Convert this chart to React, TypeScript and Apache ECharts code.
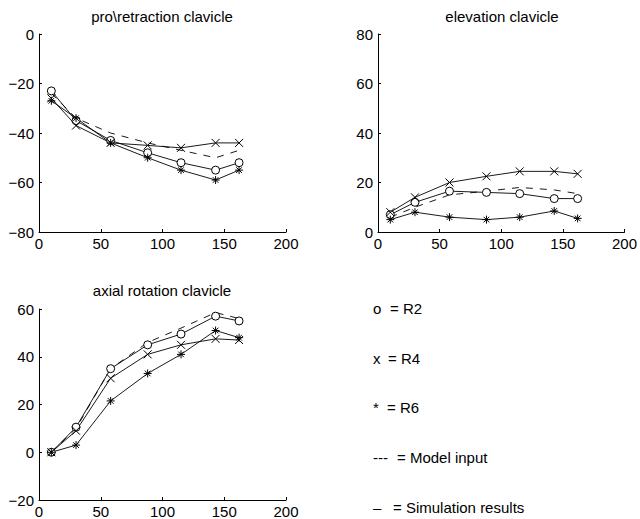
import React, { useEffect, useRef } from "react";
import * as echarts from "echarts";

const xPositions = [10, 30, 58, 88, 115, 143, 162];

const proR2 = [-23, -35, -43, -48, -52, -55, -52];
const proR4 = [-26, -37, -44, -45, -46, -44, -44];
const proR6 = [-27, -34, -44, -50, -55, -59, -55];
const proModel = [-24, -34, -40, -44, -47, -50, -47];

const elevR2 = [7, 12, 16.5, 16, 15.5, 13.5, 13.5];
const elevR4 = [8, 14, 20, 22.5, 24.5, 24.5, 23.5];
const elevR6 = [5, 8, 6, 5, 6, 8.5, 5.5];
const elevModel = [6, 10, 15, 16.5, 18, 17, 15.5];

const axR2 = [0, 10.5, 35, 45, 49.5, 57, 55];
const axR4 = [0, 9, 31, 41, 45, 47.5, 47];
const axR6 = [0, 3, 21.5, 33, 41, 51, 48];
const axModel = [0, 10, 35, 46, 52, 58.5, 56];

const titles = ["pro\\retraction clavicle", "elevation clavicle", "axial rotation clavicle"];
const legendSymbols = ["o", "x", "*", "---", "–"];
const legendTexts = ["= R2", "= R4", "= R6", "= Model input", "= Simulation results"];

const FONT = "Liberation Sans, Arial, Helvetica, sans-serif";
const CIRCLE_SYM = "path://M5,0A5,5 0 1,1 5,10A5,5 0 1,1 5,0Z";
const X_SYM = "path://M0,0L10,10M10,0L0,10";
const STAR_SYM = "path://M5,0L5,10M0,5L10,5M1.5,1.5L8.5,8.5M8.5,1.5L1.5,8.5";

function pairs(vals: number[]) {
  return xPositions.map((x, i) => [x, vals[i]]);
}

function markerSeries(vals: number[], idx: number, symbol: string, size: number, fill: string) {
  return {
    type: "line",
    xAxisIndex: idx,
    yAxisIndex: idx,
    data: pairs(vals),
    symbol,
    symbolSize: size,
    showSymbol: true,
    lineStyle: { color: "#000", width: 0.9 },
    itemStyle: { color: fill, borderColor: "#000", borderWidth: 1 },
    z: 3,
  };
}

function modelSeries(vals: number[], idx: number) {
  return {
    type: "line",
    xAxisIndex: idx,
    yAxisIndex: idx,
    data: pairs(vals),
    symbol: "none",
    lineStyle: { color: "#000", width: 0.9, type: [7, 7] },
    z: 2,
  };
}

const fmt = (v: number) => String(v).replace("-", "\u2212");

function xAxis(idx: number) {
  return {
    type: "value",
    gridIndex: idx,
    min: 0,
    max: 200,
    interval: 50,
    splitLine: { show: false },
    axisLine: { show: true, onZero: false, lineStyle: { color: "#000", width: 1 } },
    axisTick: { show: true, inside: true, length: 3, lineStyle: { color: "#000" } },
    axisLabel: { color: "#000", fontSize: 15, fontFamily: FONT, margin: 4, formatter: fmt },
  };
}

function yAxis(idx: number, min: number, max: number) {
  return {
    type: "value",
    gridIndex: idx,
    min,
    max,
    interval: 20,
    splitLine: { show: false },
    axisLine: { show: true, onZero: false, lineStyle: { color: "#000", width: 1 } },
    axisTick: { show: true, inside: true, length: 3, lineStyle: { color: "#000" } },
    axisLabel: { color: "#000", fontSize: 15, fontFamily: FONT, margin: 5, formatter: fmt },
  };
}

export default function App() {
  const ref = useRef<HTMLDivElement>(null);
  useEffect(() => {
    if (!ref.current) return;
    const chart = echarts.init(ref.current, undefined, { renderer: "svg" });
    const legendYs = [308, 358, 407, 457, 507];
    const legendTextXs = [390, 388, 387, 397, 393];
    const graphics: any[] = [];
    const titlePos = [
      [162, 16],
      [502, 16],
      [162, 290],
    ];
    titles.forEach((t, i) => {
      graphics.push({
        type: "text",
        x: titlePos[i][0],
        y: titlePos[i][1],
        style: { text: t, fill: "#000", font: `15px ${FONT}`, textAlign: "center", textVerticalAlign: "middle", verticalAlign: "middle" },
      });
    });
    legendSymbols.forEach((s, i) => {
      graphics.push({
        type: "text",
        x: 373,
        y: legendYs[i],
        style: { text: s, fill: "#000", font: `15px ${FONT}`, textAlign: "left", textVerticalAlign: "middle", verticalAlign: "middle" },
      });
      graphics.push({
        type: "text",
        x: legendTextXs[i],
        y: legendYs[i],
        style: { text: legendTexts[i], fill: "#000", font: `15px ${FONT}`, textAlign: "left", textVerticalAlign: "middle", verticalAlign: "middle" },
      });
    });
    chart.setOption({
      animation: false,
      backgroundColor: "#fff",
      grid: [
        { left: 39, top: 34, width: 247, height: 198 },
        { left: 378, top: 34, width: 247, height: 198 },
        { left: 39, top: 309, width: 247, height: 198 },
      ],
      xAxis: [xAxis(0), xAxis(1), xAxis(2)],
      yAxis: [yAxis(0, -80, 0), yAxis(1, 0, 80), yAxis(2, -20, 60)],
      series: [
        modelSeries(proModel, 0),
        markerSeries(proR2, 0, CIRCLE_SYM, 8, "#fff"),
        markerSeries(proR4, 0, X_SYM, 8, "#000"),
        markerSeries(proR6, 0, STAR_SYM, 8, "#000"),
        modelSeries(elevModel, 1),
        markerSeries(elevR2, 1, CIRCLE_SYM, 8, "#fff"),
        markerSeries(elevR4, 1, X_SYM, 8, "#000"),
        markerSeries(elevR6, 1, STAR_SYM, 8, "#000"),
        modelSeries(axModel, 2),
        markerSeries(axR2, 2, CIRCLE_SYM, 8, "#fff"),
        markerSeries(axR4, 2, X_SYM, 8, "#000"),
        markerSeries(axR6, 2, STAR_SYM, 8, "#000"),
      ],
      graphic: graphics,
    });
    return () => chart.dispose();
  }, []);
  return <div ref={ref} style={{ position: "fixed", left: 0, top: 0, width: 640, height: 519 }} />;
}
